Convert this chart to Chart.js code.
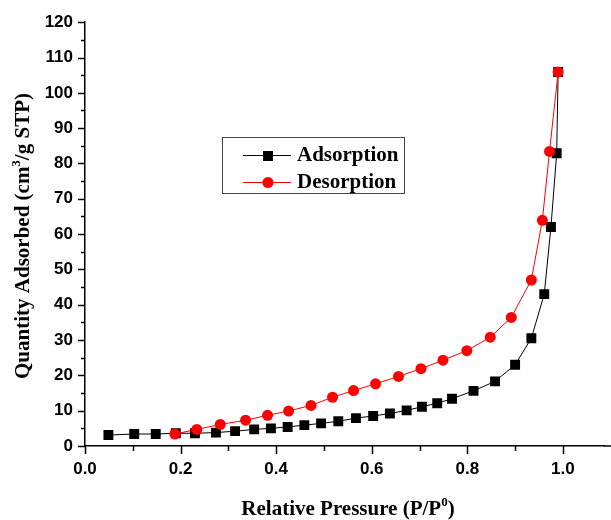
<!DOCTYPE html>
<html>
<head>
<meta charset="utf-8">
<script src="https://cdn.jsdelivr.net/npm/chart.js@4.4.0/dist/chart.umd.min.js"></script>
<style>
  html, body { margin: 0; padding: 0; background: #fff; }
</style>
</head>
<body>
<canvas id="isotherm" width="611" height="520"></canvas>
<script>
// BET isotherm
const adsP = [0.049, 0.103, 0.148, 0.190, 0.230, 0.274, 0.314, 0.354, 0.389, 0.424, 0.459, 0.494, 0.530, 0.567,
              0.603, 0.638, 0.673, 0.705, 0.737, 0.768, 0.813, 0.858, 0.900, 0.934, 0.961, 0.975, 0.987, 0.990];
const adsQ = [3.1, 3.4, 3.4, 3.6, 3.6, 3.8, 4.2, 4.7, 5.0, 5.4, 5.9, 6.4, 7.0, 7.9,
              8.5, 9.2, 10.1, 11.1, 12.1, 13.4, 15.6, 18.3, 23.0, 30.5, 43.0, 62.0, 82.9, 105.9];
const desP = [0.188, 0.234, 0.283, 0.336, 0.382, 0.426, 0.473, 0.518, 0.562, 0.608, 0.656, 0.703, 0.749, 0.799,
              0.848, 0.892, 0.934, 0.957, 0.972, 0.990];
const desQ = [3.4, 4.7, 6.1, 7.3, 8.7, 9.9, 11.5, 13.8, 15.7, 17.6, 19.7, 21.9, 24.3, 27.0,
              30.8, 36.4, 47.0, 63.9, 83.4, 105.9];
const seriesNames = ['Adsorption', 'Desorption'];
// axis is cut off at the right edge of the picture, a bit past 1.0
const xRange = [0, 1.086];
const yRange = [0, 120];
const xTickVals = [0, 0.1, 0.2, 0.3, 0.4, 0.5, 0.6, 0.7, 0.8, 0.9, 1.0];
const xTickLabels = ['0.0', '', '0.2', '', '0.4', '', '0.6', '', '0.8', '', '1.0'];
const yTickVals = [0, 5, 10, 15, 20, 25, 30, 35, 40, 45, 50, 55, 60, 65, 70, 75, 80, 85, 90, 95, 100, 105, 110, 115, 120];

const toXY = (xs, ys) => xs.map((x, i) => ({x: x, y: ys[i]}));

const serif = '"Liberation Serif", "Times New Roman", serif';
const sans = '"Liberation Sans", Arial, sans-serif';

// draws text with one superscript part: [before, sup, after], centred on x
function supText(ctx, parts, x, y, size){
  const big = 'bold ' + size + 'px ' + serif;
  const small = 'bold ' + Math.round(size*0.6) + 'px ' + serif;
  ctx.font = big;
  const w0 = ctx.measureText(parts[0]).width;
  const w2 = ctx.measureText(parts[2]).width;
  ctx.font = small;
  const w1 = ctx.measureText(parts[1]).width;
  const sx = x - (w0 + w1 + w2)/2;
  ctx.textAlign = 'left';
  ctx.textBaseline = 'alphabetic';
  ctx.font = big;
  ctx.fillText(parts[0], sx, y);
  ctx.font = small;
  ctx.fillText(parts[1], sx + w0, y - size*0.42);
  ctx.font = big;
  ctx.fillText(parts[2], sx + w0 + w1, y);
}

const extras = {
  id: 'extras',
  afterDraw(chart){
    const ctx = chart.ctx, ca = chart.chartArea;
    const xs = chart.scales.x, ys = chart.scales.y;
    ctx.save();
    ctx.strokeStyle = '#000';
    ctx.lineWidth = 1.5;
    // tick marks, major & minor
    xTickVals.forEach((v, i) => {
      const px = Math.round(xs.getPixelForValue(v)) + 0.5;
      const major = xTickLabels[i] !== '';
      ctx.beginPath(); ctx.moveTo(px, ca.bottom); ctx.lineTo(px, ca.bottom + (major ? 8 : 5)); ctx.stroke();
    });
    yTickVals.forEach(v => {
      const py = Math.round(ys.getPixelForValue(v)) + 0.5;
      const major = v % 10 === 0;
      ctx.beginPath(); ctx.moveTo(ca.left, py); ctx.lineTo(ca.left - (major ? 7 : 4), py); ctx.stroke();
    });
    // axis line runs on to the right edge
    ctx.beginPath(); ctx.moveTo(ca.right, ca.bottom); ctx.lineTo(chart.width, ca.bottom); ctx.stroke();

    // axis titles
    ctx.fillStyle = '#000';
    supText(ctx, ['Relative Pressure (P/P', '0', ')'], 348, 515, 21);
    ctx.save();
    ctx.translate(29, 236);
    ctx.rotate(-Math.PI/2);
    supText(ctx, ['Quantity Adsorbed (cm', '3', '/g STP)'], 0, 0, 21);
    ctx.restore();

    // legend box inside the plot
    ctx.lineWidth = 1;
    ctx.strokeStyle = '#444';
    ctx.strokeRect(222.5, 137.5, 182, 56);
    const rows = [
      {name: seriesNames[0], color: '#000', y: 155, shape: 'rect'},
      {name: seriesNames[1], color: '#ff0000', y: 182, shape: 'circle'}
    ];
    rows.forEach(r => {
      ctx.strokeStyle = r.color;
      ctx.fillStyle = r.color;
      ctx.lineWidth = 1;
      ctx.beginPath(); ctx.moveTo(243, r.y + 0.5); ctx.lineTo(291, r.y + 0.5); ctx.stroke();
      if (r.shape === 'rect') {
        ctx.fillRect(263, r.y - 4, 10, 10);
      } else {
        ctx.beginPath(); ctx.arc(268, r.y + 0.5, 5.5, 0, Math.PI*2); ctx.fill();
      }
      ctx.fillStyle = '#000';
      ctx.font = 'bold 21px ' + serif;
      ctx.textAlign = 'left';
      ctx.textBaseline = 'middle';
      ctx.fillText(r.name, 297, r.y + 1);
    });
    ctx.restore();
  }
};

new Chart(document.getElementById('isotherm'), {
  type: 'scatter',
  data: {
    datasets: [
      {
        label: seriesNames[1],
        data: toXY(desP, desQ),
        showLine: true,
        borderColor: '#ff0000',
        backgroundColor: '#ff0000',
        borderWidth: 1,
        pointStyle: 'circle',
        pointRadius: 5.5,
        pointBorderWidth: 0
      },
      {
        label: seriesNames[0],
        data: toXY(adsP, adsQ),
        showLine: true,
        borderColor: '#000',
        backgroundColor: '#000',
        borderWidth: 1,
        pointStyle: 'rect',
        pointRadius: 7,
        pointBorderWidth: 0
      }
    ]
  },
  options: {
    responsive: false,
    animation: false,
    layout: { padding: { top: 20, right: 0, bottom: 0, left: 0 } },
    plugins: { legend: { display: false }, tooltip: { enabled: false } },
    scales: {
      x: {
        type: 'linear',
        min: xRange[0], max: xRange[1],
        grid: { display: false, drawTicks: false },
        border: { display: true, color: '#000', width: 1.5 },
        afterBuildTicks: s => { s.ticks = xTickVals.map(v => ({value: v})); },
        ticks: {
          padding: 13,
          color: '#000',
          font: { family: sans, size: 17, weight: 'bold' },
          maxRotation: 0,
          autoSkip: false,
          callback: (v, i) => xTickLabels[i]
        },
        afterFit: s => { s.height = 74; s.paddingRight = 0; s.paddingLeft = 0; }
      },
      y: {
        type: 'linear',
        min: yRange[0], max: yRange[1],
        grid: { display: false, drawTicks: false },
        border: { display: true, color: '#000', width: 1.5 },
        afterBuildTicks: s => { s.ticks = yTickVals.map(v => ({value: v})); },
        ticks: {
          padding: 12,
          color: '#000',
          font: { family: sans, size: 17, weight: 'bold' },
          autoSkip: false,
          callback: v => (v % 10 === 0) ? String(v) : ''
        },
        afterFit: s => { s.width = 85; }
      }
    }
  },
  plugins: [extras]
});
</script>
</body>
</html>
